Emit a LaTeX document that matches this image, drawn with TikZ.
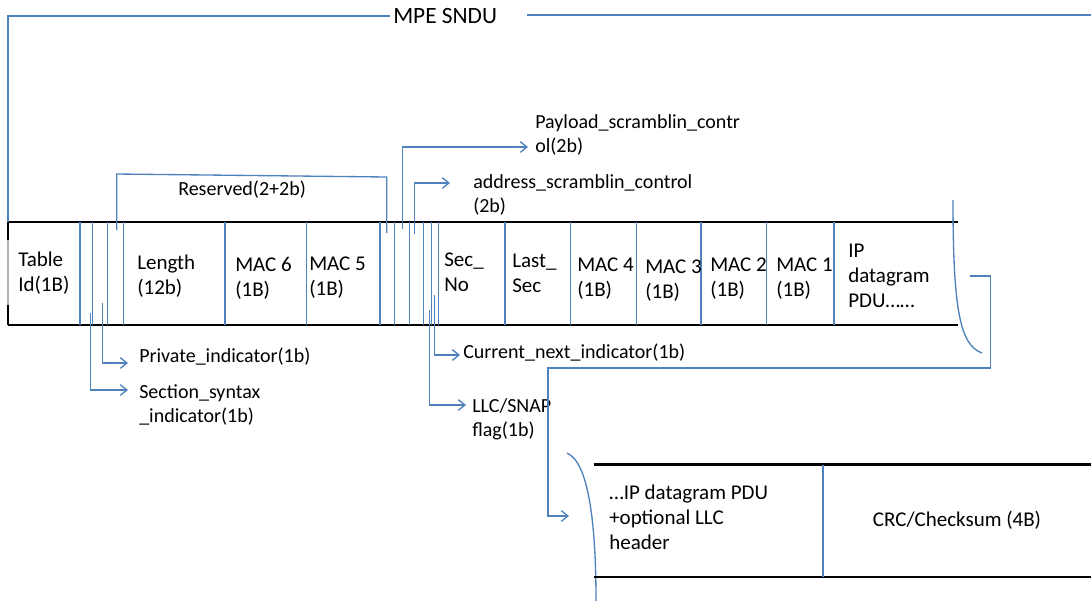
\documentclass[tikz,border=0pt]{standalone}
\usepackage{fontspec}
\setmainfont{Carlito}
\usetikzlibrary{arrows.meta}
\definecolor{linkblue}{HTML}{4F81BD}

\begin{document}
\begin{tikzpicture}[x=0.75pt,y=-0.75pt,
  field/.style={draw=linkblue, line width=1pt},
  barline/.style={draw=black, line width=2.2pt},
  lead/.style={draw=linkblue, line width=1pt, -{Straight Barb[length=5pt,width=8pt]}},
  bracket/.style={draw=linkblue, line width=1pt},
  cell/.style={font=\fontsize{15.75}{18.75}\selectfont, align=left, anchor=west, inner sep=0pt},
  note/.style={font=\fontsize{15}{18}\selectfont, align=left, anchor=west, inner sep=0pt},
]
\useasboundingbox (0,0) rectangle (1091,601);

% ---------- main header bar ----------
\draw[barline] (8,222) -- (958,222);
\draw[barline] (8,325) -- (958,325);
\draw[black, line width=1.6pt] (8,222) -- (8,240) (8,305) -- (8,325);
\draw[gray!60, line width=1.6pt] (8,240) -- (8,305);

% field separators
\foreach \fx in {80,92.7,107.7,123.3,225,306.7,380,394.3,409.3,423.3,431.7,438.5,505,570.7,636.7,701,766.7,834}
  \draw[field] (\fx,222) -- (\fx,325);

% field labels
\node[cell] (tid)  at (18,273.5)  {Table\\Id(1B)};
\node[cell] (len)  at (137,276.5) {Length\\(12b)};
\node[cell] (m6)   at (235,278)   {MAC 6\\(1B)};
\node[cell] (m5)   at (309,278)   {MAC 5\\(1B)};
\node[cell] (secn) at (444,272.5) {Sec\_\\No};
\node[cell] (lsec) at (512,273)   {Last\_\\Sec};
\node[cell] (m4)   at (577,279)   {MAC 4\\(1B)};
\node[cell] (m3)   at (645,281)   {MAC 3\\(1B)};
\node[cell] (m2)   at (710,278.5) {MAC 2\\(1B)};
\node[cell] (m1)   at (776,278.5) {MAC 1\\(1B)};
\node[cell] (ipd)  at (848,275.5) {IP\\datagram\\PDU……};

% ---------- overall SNDU span ----------
\node[cell, font=\fontsize{17.5}{20}\selectfont] (sndu) at (393,16) {MPE SNDU};
\coordinate (snduL) at (8,222);
\coordinate (snduR) at (1091,15);
\draw[bracket] (snduL) |- (sndu.west -| 390,15);
\draw[bracket] (527,15) coordinate (snduM) -- (snduR);

% ---------- reserved bits ----------
\coordinate (resA) at (116.7,230);
\coordinate (resB) at (386.7,233);
\draw[bracket] (resA) -- (116.7,174) -- (386.7,177) -- (resB);
\node[note] (res) at (178,190) {Reserved(2+2b)};

% ---------- labels above the bar ----------
\node[note] (pay) at (535,135) {Payload\_scramblin\_contr\\ol(2b)};
\coordinate (payA) at (402.3,229);
\coordinate (payT) at (528,147);
\draw[lead] (payA) |- (payT);

\node[note] (adr) at (473,194.5) {address\_scramblin\_control\\(2b)};
\coordinate (adrA) at (414.3,234);
\coordinate (adrT) at (450,183);
\draw[lead] (adrA) |- (adrT);

% ---------- labels below the bar ----------
\node[note] (pvt) at (139,357) {Private\_indicator(1b)};
\coordinate (pvtA) at (102.7,303);
\coordinate (pvtT) at (128,363);
\draw[lead] (pvtA) |- (pvtT);

\node[note] (ssi) at (139,405) {Section\_syntax\\\_indicator(1b)};
\coordinate (ssiA) at (90.7,313);
\coordinate (ssiT) at (128,390);
\draw[lead] (ssiA) |- (ssiT);

\node[note] (cni) at (463,353) {Current\_next\_indicator(1b)};
\coordinate (cniA) at (434.3,295);
\coordinate (cniT) at (460,355);
\draw[lead] (cniA) |- (cniT);

\node[note] (llc) at (472,419.5) {LLC/SNAP\\flag(1b)};
\coordinate (llcA) at (429.3,310);
\coordinate (llcT) at (466,405);
\draw[lead] (llcA) |- (llcT);

% ---------- torn end of the first part ----------
\draw[bracket] (953,200) .. controls (953,310) and (960,345) .. (982,353);

% continuation link to the second part
\coordinate (contA) at (970,276);
\coordinate (contT) at (569,516);
\draw[lead] (contA) -- (990.5,276) -- (990.5,368) -- (548,368) |- (contT);

% ---------- second part ----------
\draw[bracket] (567,453) .. controls (588,462) and (596,520) .. (596,601);
\draw[barline] (594,464.5) -- (1091,464.5);
\draw[barline] (594,577) -- (1091,577);
\draw[field] (823,464.5) -- (823,577);
\node[cell] (ipc) at (609,517) {…IP datagram PDU\\+optional LLC\\header};
\node[cell, anchor=center] (crc) at (957,520) {CRC/Checksum (4B)};
\end{tikzpicture}
\end{document}
